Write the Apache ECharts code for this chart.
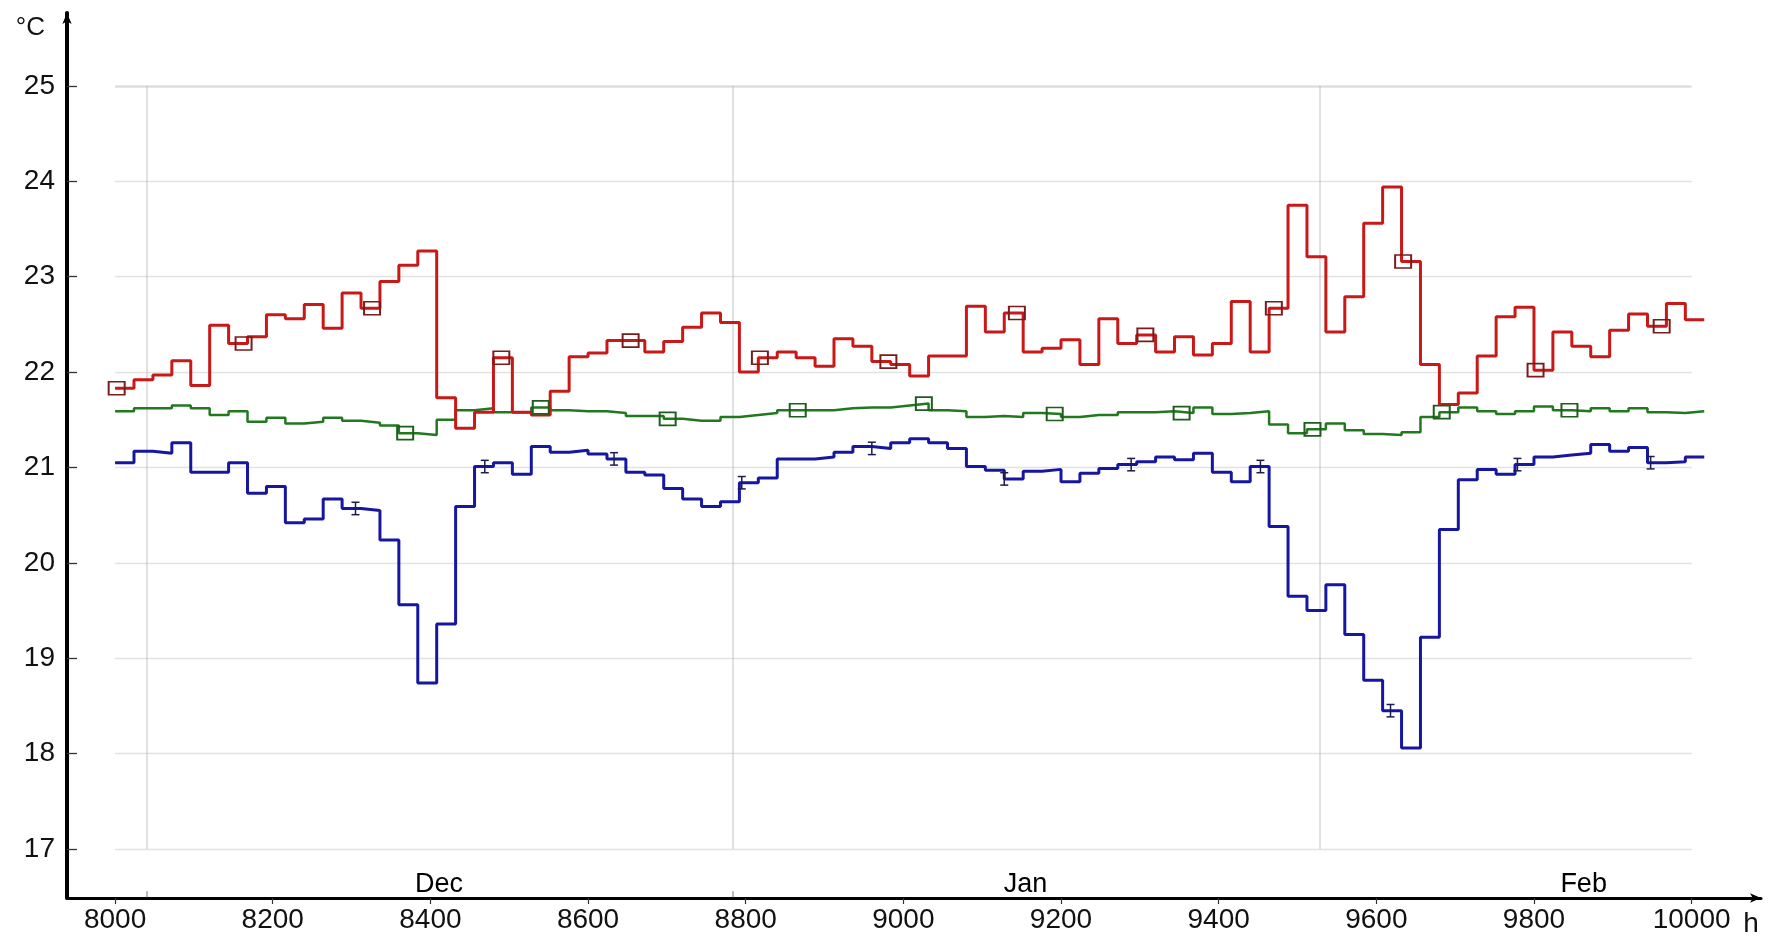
<!DOCTYPE html>
<html>
<head>
<meta charset="utf-8">
<script src="https://cdn.jsdelivr.net/npm/echarts@6/dist/echarts.min.js"></script>
<style>
html,body{margin:0;padding:0;background:#fff;}
#chart{width:1768px;height:938px;}
</style>
</head>
<body>
<div id="chart"></div>
<script>
// ---- data ----
const dayStart = 8000;      // first daily step, hours
const dayLen = 24;          // hours per step
const xTickLabels = [8000, 8200, 8400, 8600, 8800, 9000, 9200, 9400, 9600, 9800, 10000];
const yTickLabels = [17, 18, 19, 20, 21, 22, 23, 24, 25];
const monthNames = ['Dec', 'Jan', 'Feb'];
const monthMid = [8411, 9155, 9863];
const monthStart = [8040, 8784, 9528];

const redDaily = [21.83,21.92,21.97,22.12,21.86,22.49,22.30,22.37,22.60,22.56,22.71,22.46,22.83,22.67,22.95,23.12,23.27,21.73,21.41,21.58,
  22.15,21.58,21.55,21.80,22.16,22.20,22.33,22.33,22.21,22.32,22.47,22.62,22.52,22.00,22.15,22.21,22.15,22.06,22.35,22.27,
  22.11,22.08,21.96,22.17,22.17,22.69,22.42,22.62,22.21,22.25,22.34,22.08,22.56,22.30,22.39,22.21,22.37,22.18,22.30,22.74,
  22.21,22.67,23.75,23.21,22.42,22.79,23.56,23.94,23.16,22.08,21.66,21.78,22.17,22.58,22.68,22.02,22.42,22.27,22.16,22.44,
  22.61,22.48,22.72,22.55];
const greenDaily = [21.59,21.62,21.62,21.65,21.62,21.55,21.59,21.48,21.52,21.46,21.48,21.52,21.49,21.47,21.44,21.36,21.34,21.50,21.60,21.62,
  21.58,21.58,21.63,21.60,21.59,21.59,21.57,21.54,21.54,21.51,21.49,21.49,21.53,21.55,21.57,21.60,21.60,21.60,21.62,21.63,
  21.63,21.65,21.67,21.60,21.59,21.53,21.54,21.53,21.57,21.56,21.53,21.55,21.55,21.58,21.58,21.59,21.57,21.63,21.56,21.57,
  21.59,21.45,21.36,21.40,21.46,21.39,21.35,21.34,21.37,21.53,21.58,21.63,21.59,21.56,21.59,21.64,21.60,21.59,21.62,21.59,
  21.62,21.58,21.57,21.59];
const blueDaily = [21.05,21.17,21.15,21.26,20.95,20.95,21.05,20.73,20.80,20.42,20.46,20.67,20.57,20.55,20.24,19.56,18.74,19.36,20.59,21.01,
  21.05,20.93,21.22,21.16,21.18,21.14,21.09,20.95,20.92,20.78,20.67,20.59,20.64,20.84,20.89,21.09,21.09,21.11,21.16,21.22,
  21.20,21.26,21.30,21.26,21.20,21.01,20.97,20.88,20.96,20.98,20.85,20.94,20.99,21.03,21.06,21.11,21.08,21.15,20.95,20.85,
  21.01,20.38,19.65,19.50,19.77,19.25,18.77,18.45,18.06,19.22,20.35,20.87,20.98,20.93,21.03,21.11,21.13,21.15,21.24,21.17,
  21.21,21.05,21.06,21.11];

const redMarkH = [8002, 8163, 8326, 8490, 8654, 8818, 8981, 9144, 9307, 9470, 9634, 9802, 9962];
const redMarkV = [21.83, 22.30, 22.67, 22.15, 22.33, 22.15, 22.11, 22.62, 22.39, 22.67, 23.16, 22.02, 22.48];
const greenMarkH = [8368, 8540, 8701, 8866, 9026, 9192, 9353, 9519, 9683, 9845];
const greenMarkV = [21.36, 21.63, 21.51, 21.60, 21.67, 21.56, 21.57, 21.40, 21.58, 21.60];
const blueErrH = [8305, 8469, 8633, 8795, 8960, 9128, 9289, 9453, 9618, 9779, 9948];
const blueErrV = [20.57, 21.01, 21.09, 20.84, 21.20, 20.88, 21.03, 21.01, 18.45, 21.03, 21.05];
const blueErrHalf = 0.065;

// ---- build ----
function stepData(vals) {
  const d = vals.map((v, i) => [dayStart + i * dayLen, v]);
  d.push([dayStart + vals.length * dayLen, vals[vals.length - 1]]);
  return d;
}
const zip = (a, b) => a.map((x, i) => [x, b[i]]);

const X_MIN = 7939, X_MAX = 10088, Y_MIN = 16.486, Y_MAX = 25.765;
const GRID_X0 = xTickLabels[0], GRID_X1 = xTickLabels[xTickLabels.length - 1];
const font = "'Liberation Sans', Arial, sans-serif";
const txt = '#111111';

const hGrid = yTickLabels.map(v => ({
  coords: [[GRID_X0, v], [GRID_X1, v]],
  lineStyle: { width: v === 25 ? 2.6 : 1.3, color: v === 25 ? '#bdbdbd' : '#c6c6c6' }
}));
const vGrid = monthStart.map(h => ({
  coords: [[h, yTickLabels[0]], [h, yTickLabels[yTickLabels.length - 1]]],
  lineStyle: { width: 1.6, color: '#b4b4b4' }
}));
const mTicks = monthStart.slice(0, 2).map(h => ({
  coords: [[h, Y_MIN], [h, Y_MIN + 0.07]],
  lineStyle: { width: 1.5, color: '#444' }
}));

const chart = echarts.init(document.getElementById('chart'), null, { renderer: 'canvas' });
chart.setOption({
  animation: false,
  backgroundColor: '#ffffff',
  grid: { left: 67, right: 7, top: 13, bottom: 40, containLabel: false, outerBoundsMode: 'none' },
  xAxis: {
    type: 'value', min: X_MIN, max: X_MAX,
    name: 'h', nameLocation: 'end', nameGap: -10,
    nameTextStyle: { fontFamily: font, fontSize: 28, color: txt, align: 'center', verticalAlign: 'top', padding: [12, 0, 0, 0] },
    axisLine: { onZero: false, symbol: ['none', 'arrow'], symbolSize: [7, 11], lineStyle: { color: '#000', width: 3 } },
    axisTick: { customValues: xTickLabels, length: 6, inside: false, lineStyle: { color: '#333', width: 1.2 } },
    axisLabel: { customValues: xTickLabels, formatter: v => String(v), fontFamily: font, fontSize: 28, color: txt, margin: 8 },
    splitLine: { show: false }
  },
  yAxis: {
    type: 'value', min: Y_MIN, max: Y_MAX,
    name: '°C', nameLocation: 'end', nameGap: 0,
    nameTextStyle: { fontFamily: font, fontSize: 26, color: txt, align: 'right', verticalAlign: 'top', padding: [2, 22, 0, 0] },
    axisLine: { onZero: false, symbol: ['none', 'arrow'], symbolSize: [7, 11], lineStyle: { color: '#000', width: 4 } },
    axisTick: { customValues: yTickLabels, length: 10, inside: true, lineStyle: { color: '#333', width: 1.3 } },
    axisLabel: { customValues: yTickLabels, fontFamily: font, fontSize: 28, color: txt, margin: 12 },
    splitLine: { show: false }
  },
  series: [
    { type: 'lines', coordinateSystem: 'cartesian2d', silent: true, z: 1, data: hGrid.concat(vGrid, mTicks) },
    {
      name: 'green', type: 'line', step: 'end', showSymbol: false, z: 3,
      data: stepData(greenDaily), lineStyle: { color: '#22781f', width: 2.5 }
    },
    {
      name: 'blue', type: 'line', step: 'end', showSymbol: false, z: 3,
      data: stepData(blueDaily), lineStyle: { color: '#1616a0', width: 3 }
    },
    {
      name: 'red', type: 'line', step: 'end', showSymbol: false, z: 4,
      data: stepData(redDaily), lineStyle: { color: '#c81818', width: 3 }
    },
    {
      name: 'greenMarks', type: 'scatter', symbol: 'rect', symbolSize: [16, 13], z: 5,
      data: zip(greenMarkH, greenMarkV),
      itemStyle: { color: 'rgba(255,255,255,0)', borderColor: '#1d5e1d', borderWidth: 1.8, opacity: 1 }
    },
    {
      name: 'redMarks', type: 'scatter', symbol: 'rect', symbolSize: [16, 13], z: 5,
      data: zip(redMarkH, redMarkV),
      itemStyle: { color: 'rgba(255,255,255,0)', borderColor: '#7a1c1c', borderWidth: 1.8, opacity: 1 }
    },
    {
      name: 'blueErr', type: 'custom', z: 6,
      data: zip(blueErrH, blueErrV),
      renderItem: function (params, api) {
        const x = api.value(0), v = api.value(1);
        const t = api.coord([x, v + blueErrHalf]);
        const b = api.coord([x, v - blueErrHalf]);
        const w = 4;
        const st = { stroke: '#1c1c50', lineWidth: 1.5 };
        return { type: 'group', children: [
          { type: 'line', shape: { x1: t[0], y1: t[1], x2: b[0], y2: b[1] }, style: st },
          { type: 'line', shape: { x1: t[0] - w, y1: t[1], x2: t[0] + w, y2: t[1] }, style: st },
          { type: 'line', shape: { x1: b[0] - w, y1: b[1], x2: b[0] + w, y2: b[1] }, style: st }
        ] };
      }
    },
    {
      name: 'months', type: 'scatter', symbolSize: 0, silent: true, z: 6,
      data: monthNames.map((n, i) => ({ name: n, value: [monthMid[i], Y_MIN] })),
      itemStyle: { opacity: 1 },
      label: { show: true, position: 'top', distance: 0, formatter: '{b}', fontFamily: font, fontSize: 27, color: '#000', opacity: 1 },
      emphasis: { disabled: true }
    }
  ]
});
</script>
</body>
</html>
